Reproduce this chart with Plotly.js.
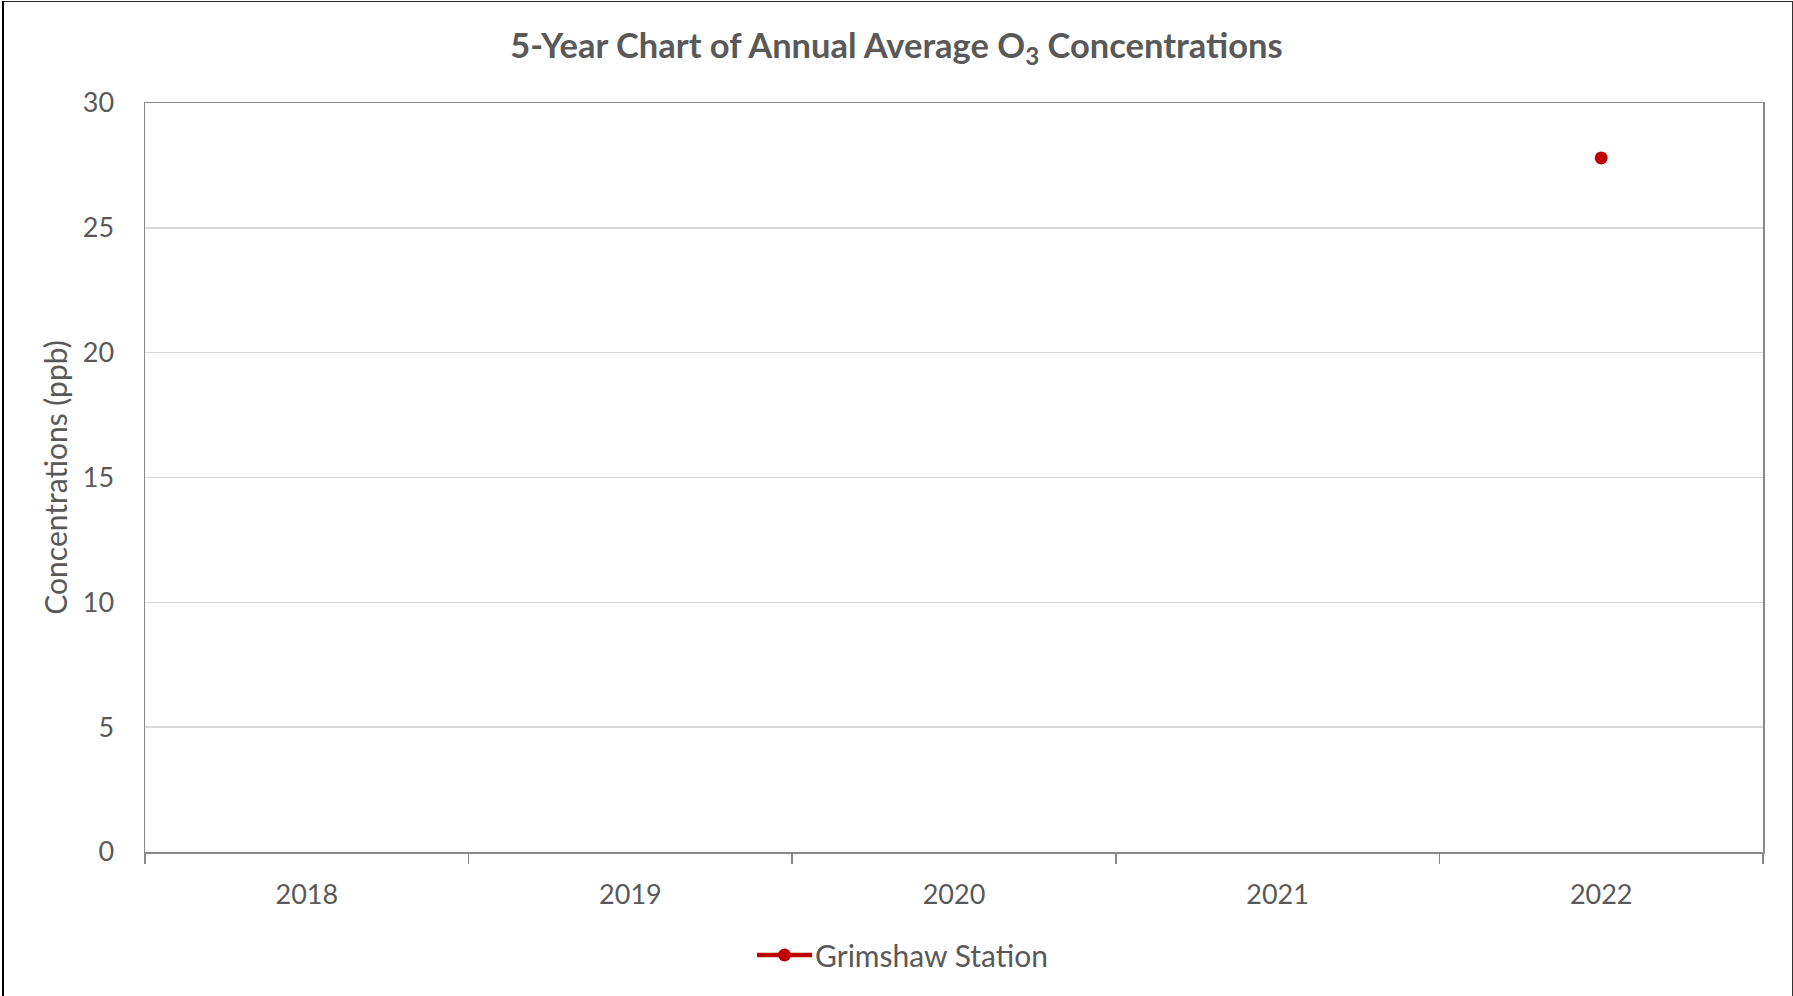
<!DOCTYPE html>
<html>
<head>
<meta charset="utf-8">
<script src="https://cdn.plot.ly/plotly-3.0.1.min.js"></script>
<style>
  html, body { margin: 0; padding: 0; background: #fff; }
  #chart { width: 1793px; height: 996px; }
  #frame {
    position: absolute; left: 2px; top: 1px; width: 1788px; height: 1010px;
    border-left: 2px solid #000; border-top: 1px solid #222; border-right: 1.5px solid #333;
    pointer-events: none;
  }
  /* longer legend key line with the dot in its middle */
  #chart .legend .legendlines path { d: path('M4,0h55'); }
  #chart .legend .legendpoints path { transform: translate(31.5px, 0px); }
</style>
</head>
<body>
<div id="chart"></div>
<div id="frame"></div>
<script>
// Annual average O3 (ppb) at Grimshaw Station; only 2022 has a reported value
const years = ['2018', '2019', '2020', '2021', '2022'];
const grimshaw = [null, null, null, null, 27.8];
const seriesName = 'Grimshaw Station';
const yTicks = [0, 5, 10, 15, 20, 25, 30];

const textGrey = '#595959';
const axisGrey = '#898989';
const fontFamily = 'Lato, "Open Sans", sans-serif';

const traces = [{
  type: 'scatter',
  mode: 'lines+markers',
  name: seriesName,
  x: years,
  y: grimshaw,
  line: { color: '#C00000', width: 4.5 },
  marker: { color: '#C00000', size: 13 },
  connectgaps: false
}];

const layout = {
  width: 1793,
  height: 996,
  paper_bgcolor: '#ffffff',
  plot_bgcolor: '#ffffff',
  margin: { l: 145, r: 30, t: 103, b: 144 },
  font: { family: fontFamily, color: textGrey, size: 27 },
  title: {
    text: '<b>5-Year Chart of Annual Average O<sub>3</sub> Concentrations</b>',
    font: { family: fontFamily, size: 34.5, color: textGrey },
    x: 0.5, xanchor: 'center',
    y: 0.954, yref: 'container', yanchor: 'middle'
  },
  xaxis: {
    type: 'category',
    categoryorder: 'array',
    categoryarray: years,
    range: [-0.5, 4.5],
    showgrid: false,
    zeroline: false,
    showline: true,
    linecolor: axisGrey,
    linewidth: 1.5,
    mirror: true,
    ticks: 'outside',
    tickson: 'boundaries',
    ticklen: 10,
    tickwidth: 1.5,
    tickcolor: axisGrey,
    ticklabelstandoff: 18,
    tickfont: { family: fontFamily, size: 27, color: textGrey }
  },
  yaxis: {
    range: [0, 30],
    tickvals: yTicks,
    showgrid: true,
    gridcolor: '#d9d9d9',
    gridwidth: 1.5,
    zeroline: false,
    showline: true,
    linecolor: axisGrey,
    linewidth: 1.5,
    mirror: true,
    ticks: '',
    ticklabelstandoff: 24,
    tickfont: { family: fontFamily, size: 27, color: textGrey },
    title: {
      text: 'Concentrations (ppb)',
      font: { family: fontFamily, size: 30, color: textGrey },
      standoff: 6
    }
  },
  showlegend: true,
  legend: {
    orientation: 'h',
    x: 0.4685, xanchor: 'center',
    y: -0.1375, yanchor: 'middle',
    itemwidth: 52,
    font: { family: fontFamily, size: 30, color: textGrey },
    bgcolor: 'rgba(0,0,0,0)'
  }
};

Plotly.newPlot('chart', traces, layout, { displayModeBar: false, staticPlot: true });
</script>
</body>
</html>
